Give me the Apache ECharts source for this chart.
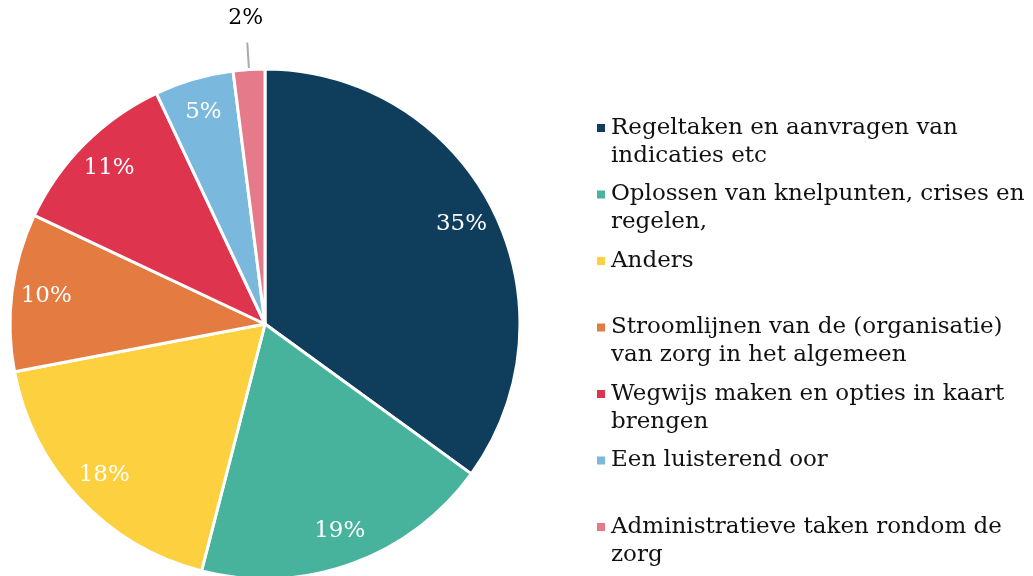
<!DOCTYPE html>
<html>
<head>
<meta charset="utf-8">
<script src="https://cdn.jsdelivr.net/npm/echarts@6/dist/echarts.min.js"></script>
<style>
  html, body { margin: 0; padding: 0; background: #fff; }
  #chart { width: 1033px; height: 576px; }
</style>
</head>
<body>
<div id="chart"></div>
<script>
// categories and their shares (percent)
const categories = [
  'Regeltaken en aanvragen van indicaties etc',
  'Oplossen van knelpunten, crises en regelen,',
  'Anders',
  'Stroomlijnen van de (organisatie) van zorg in het algemeen',
  'Wegwijs maken en opties in kaart brengen',
  'Een luisterend oor',
  'Administratieve taken rondom de zorg'
];
const values = [35, 19, 18, 10, 11, 5, 2];
// legend text, wrapped as in the original
const legendLabels = [
  'Regeltaken en aanvragen van\nindicaties etc',
  'Oplossen van knelpunten, crises en\nregelen,',
  'Anders',
  'Stroomlijnen van de (organisatie)\nvan zorg in het algemeen',
  'Wegwijs maken en opties in kaart\nbrengen',
  'Een luisterend oor',
  'Administratieve taken rondom de\nzorg'
];
const colors = ['#0f3e5c', '#47b39d', '#fcd03f', '#e47b40', '#df344e', '#7bb8dd', '#e57a8a'];

const FONT = 'DejaVu Serif';
const center = [265, 324];
const R = 255;
const smallIdx = 6; // the 2% slice gets its label outside

const chart = echarts.init(document.getElementById('chart'));

const pieData = categories.map((name, i) => ({
  name: name,
  value: values[i],
  itemStyle: { color: colors[i] },
  label: i === smallIdx ? { show: true, color: 'rgba(0,0,0,0)' } : { show: false },
  labelLine: { show: i === smallIdx }
}));

// invisible ring used only to place the inside percentage labels
const innerLabelData = categories.map((name, i) => ({
  name: name,
  value: values[i],
  label: { show: i !== smallIdx }
}));

// invisible ring used only to place the 2% label above the line
const outerLabelData = categories.map((name, i) => ({
  name: name,
  value: values[i],
  label: { show: i === smallIdx }
}));

// pad every legend entry to three lines (blank first line) so the
// square sits beside the first real line of text
function legendText(name) {
  let t = legendLabels[categories.indexOf(name)];
  if (t.indexOf('\n') < 0) t += '\n ';
  return ' \n' + t;
}

chart.setOption({
  animation: false,
  color: colors,
  legend: {
    orient: 'vertical',
    left: 595,
    top: 86,
    padding: 0,
    itemWidth: 10,
    itemHeight: 10,
    itemGap: -17.5,
    icon: 'rect',
    selectedMode: false,
    data: categories,
    formatter: legendText,
    textStyle: {
      fontFamily: FONT,
      fontSize: 23,
      color: '#111',
      lineHeight: 28
    }
  },
  series: [
    {
      type: 'pie',
      center: center,
      radius: R,
      startAngle: 90,
      clockwise: true,
      avoidLabelOverlap: false,
      itemStyle: { borderColor: '#fff', borderWidth: 3 },
      label: { position: 'outside', formatter: '{c}%', fontFamily: FONT, fontSize: 22 },
      labelLine: { length: 27, length2: 0, lineStyle: { color: '#aaa', width: 2 } },
      emphasis: { disabled: true },
      data: pieData
    },
    {
      type: 'pie',
      center: center,
      radius: [180, R],
      startAngle: 90,
      clockwise: true,
      silent: true,
      itemStyle: { color: 'rgba(0,0,0,0)' },
      label: {
        position: 'inside',
        formatter: '{c}%',
        color: '#fff',
        fontFamily: FONT,
        fontSize: 23
      },
      labelLine: { show: false },
      data: innerLabelData
    },
    {
      type: 'pie',
      center: center,
      radius: [290, 316],
      startAngle: 90,
      clockwise: true,
      silent: true,
      itemStyle: { color: 'rgba(0,0,0,0)' },
      label: {
        position: 'inside',
        formatter: '{c}%',
        color: '#000',
        fontFamily: FONT,
        fontSize: 22
      },
      labelLine: { show: false },
      data: outerLabelData
    }
  ]
});
</script>
</body>
</html>
